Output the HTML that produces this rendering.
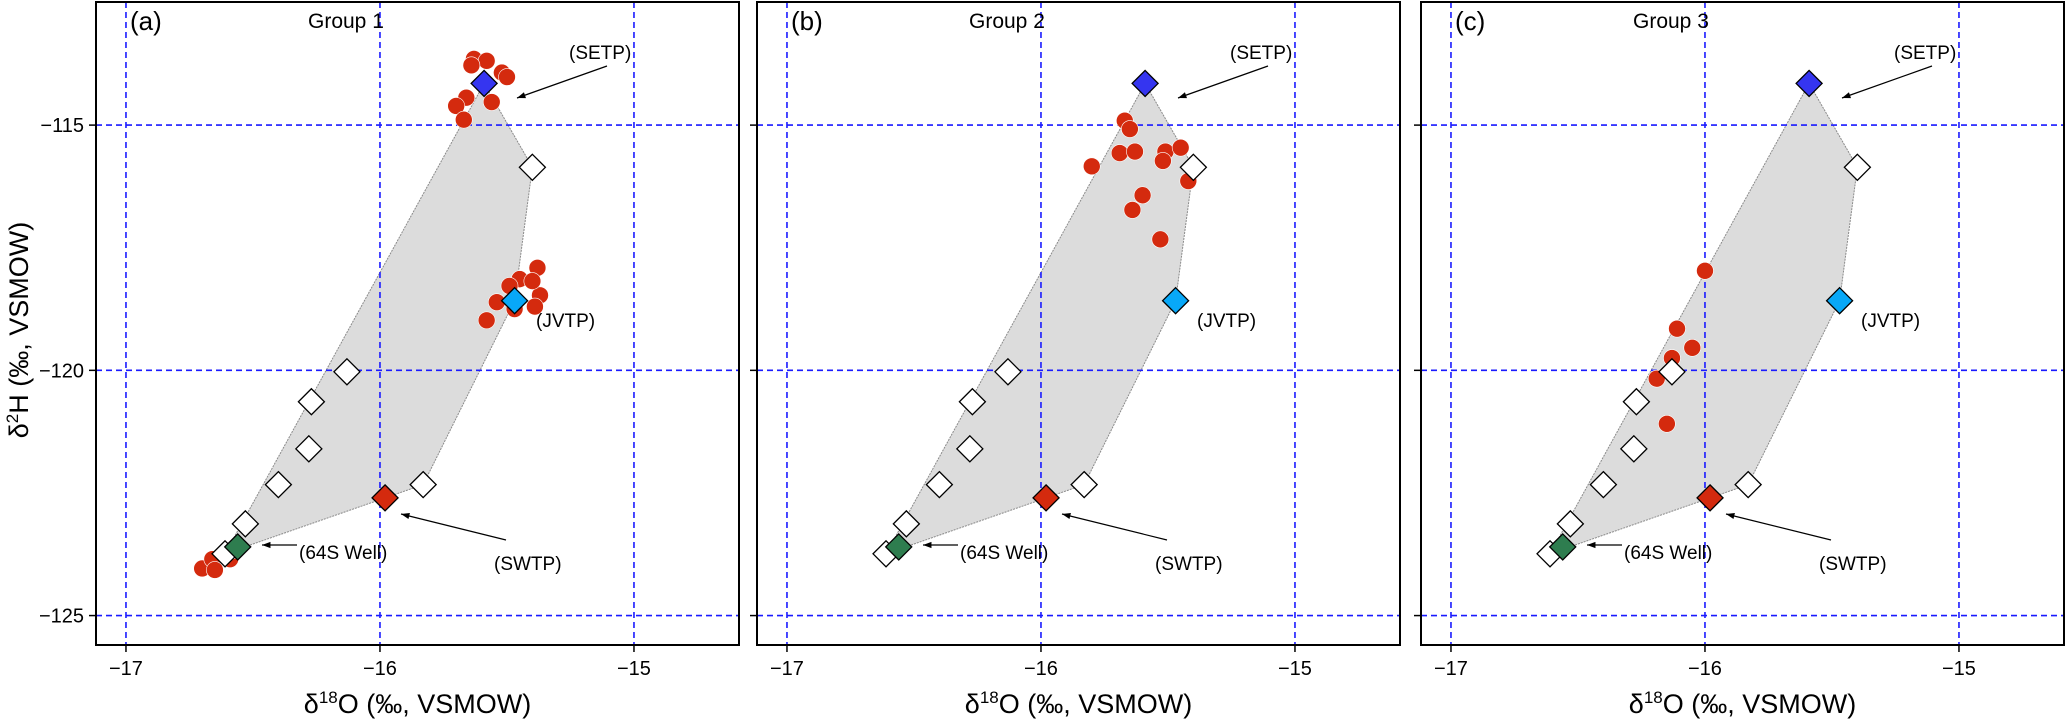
<!DOCTYPE html>
<html><head><meta charset="utf-8">
<style>
html,body{margin:0;padding:0;background:#fff;}
svg{display:block;font-family:"Liberation Sans",sans-serif;}
</style></head>
<body>
<svg id="chart" width="2067" height="721" viewBox="0 0 2067 721" xmlns="http://www.w3.org/2000/svg"></svg>
<script>
// ---- data ----
const xTicks = [-17, -16, -15];
const yTicks = [-115, -120, -125];
const panelLetters = ["(a)", "(b)", "(c)"];
const panelGroups = ["Group 1", "Group 2", "Group 3"];
const sourceNames = ["SETP", "JVTP", "SWTP", "64S Well"];
const sourceX = [-15.59, -15.47, -15.98, -16.56];
const sourceY = [-114.15, -118.58, -122.6, -123.6];
const sourceColors = ["#3535f0", "#08a8f8", "#d42a0e", "#2e7d4f"];
const otherX = [-15.40, -16.13, -16.27, -16.28, -16.40, -15.83, -16.53, -16.61];
const otherY = [-115.86, -120.03, -120.64, -121.6, -122.33, -122.33, -123.13, -123.74];
const group1X = [-15.63,-15.58,-15.64,-15.52,-15.50,-15.66,-15.70,-15.56,-15.67,
  -15.38,-15.45,-15.49,-15.37,-15.39,-15.54,-15.58,-15.47,-15.40,
  -16.70,-16.66,-16.65,-16.59,-16.58];
const group1Y = [-113.65,-113.69,-113.78,-113.93,-114.02,-114.44,-114.61,-114.53,-114.89,
  -117.91,-118.14,-118.28,-118.47,-118.70,-118.61,-118.98,-118.75,-118.18,
  -124.04,-123.85,-124.07,-123.85,-123.67];
const group2X = [-15.67,-15.65,-15.69,-15.63,-15.51,-15.45,-15.52,-15.80,-15.42,-15.60,-15.64,-15.53];
const group2Y = [-114.91,-115.08,-115.57,-115.54,-115.54,-115.46,-115.73,-115.84,-116.14,-116.43,-116.73,-117.33];
const group3X = [-16.00,-16.11,-16.05,-16.13,-16.19,-16.15];
const group3Y = [-117.97,-119.15,-119.54,-119.75,-120.17,-121.09];

const groupsX = [group1X, group2X, group3X];
const groupsY = [group1Y, group2Y, group3Y];

// ---- layout ----
const panelLeft = [96, 757, 1421];
const plotW = 643, plotTop = 2, plotBottom = 645;
const xMin = -17.118, xMax = xMin + 643/254;
const yMax = -112.49, yMin = -125.6;
function sx(p, v){ return panelLeft[p] + (v - xMin) / (xMax - xMin) * plotW; }
function sy(v){ return plotTop + (yMax - v) / (yMax - yMin) * (plotBottom - plotTop); }

const NS = "http://www.w3.org/2000/svg";
const svg = document.getElementById("chart");
function mk(tag, attrs, parent){
  const e = document.createElementNS(NS, tag);
  for (const k in attrs) e.setAttribute(k, attrs[k]);
  (parent || svg).appendChild(e);
  return e;
}

// convex hull of diamonds
function hull(pts){
  pts = pts.slice().sort((a,b)=>a[0]-b[0]||a[1]-b[1]);
  const cr=(o,a,b)=>(a[0]-o[0])*(b[1]-o[1])-(a[1]-o[1])*(b[0]-o[0]);
  const lo=[],up=[];
  for(const p of pts){while(lo.length>=2&&cr(lo[lo.length-2],lo[lo.length-1],p)<=0)lo.pop();lo.push(p);}
  for(let i=pts.length-1;i>=0;i--){const p=pts[i];while(up.length>=2&&cr(up[up.length-2],up[up.length-1],p)<=0)up.pop();up.push(p);}
  up.pop();lo.pop();return lo.concat(up);
}

function diamond(cx, cy, fill, g){
  const r = 13;
  return mk("polygon", {points:`${cx},${cy-r} ${cx+r},${cy} ${cx},${cy+r} ${cx-r},${cy}`, fill:fill, stroke:"#000", "stroke-width":1.3}, g);
}

for (let p = 0; p < 3; p++){
  const g = mk("g", {});
  
  
  const L = panelLeft[p];

  // hull
  const allX = sourceX.concat(otherX), allY = sourceY.concat(otherY);
  const h = hull(allX.map((v,i)=>[sx(p,v), sy(allY[i])]));
  const hp = mk("polygon", {points:h.map(q=>q.join(",")).join(" "), fill:"#dcdcdc", stroke:"#8a8a8a", "stroke-width":1, "stroke-dasharray":"2,1"}, g);
  
  

  // grid
  xTicks.forEach(t=>{
    const l = mk("line", {x1:sx(p,t), x2:sx(p,t), y1:plotTop, y2:plotBottom, stroke:"#1a1aff", "stroke-width":1.6, "stroke-dasharray":"6,4"}, g);
    
    
    const tk = mk("line", {x1:sx(p,t), x2:sx(p,t), y1:plotBottom, y2:plotBottom+7, stroke:"#000", "stroke-width":1.5}, g);
    
    
    const tl = mk("text", {x:sx(p,t), y:675, "text-anchor":"middle", "font-size":20, fill:"#000"}, g);
    tl.textContent = "\u2212" + Math.abs(t);
    
    
  });
  yTicks.forEach(t=>{
    const l = mk("line", {x1:L, x2:L+plotW, y1:sy(t), y2:sy(t), stroke:"#1a1aff", "stroke-width":1.6, "stroke-dasharray":"6,4"}, g);
    
    
    const tk = mk("line", {x1:L-7, x2:L, y1:sy(t), y2:sy(t), stroke:"#000", "stroke-width":1.5}, g);
    
    
    if (p === 0){
      const tl = mk("text", {x:L-12, y:sy(t)+7, "text-anchor":"end", "font-size":20, fill:"#000"}, g);
      tl.textContent = "\u2212" + Math.abs(t);
      
      
    }
  });

  // red samples
  const gx = groupsX[p], gy = groupsY[p];
  gx.forEach((v,i)=>{
    const c = mk("circle", {cx:sx(p,v), cy:sy(gy[i]), r:8.5, fill:"#d42a0e", stroke:"#fff", "stroke-width":0.6}, g);
    
    
  });

  // diamonds
  otherX.forEach((v,i)=>{
    const d = diamond(sx(p,v), sy(otherY[i]), "#fff", g);
    
    
  });
  sourceX.forEach((v,i)=>{
    const d = diamond(sx(p,v), sy(sourceY[i]), sourceColors[i], g);
    
    
  });

  // annotations
  const ann = [
    {t:"(SETP)", x:L+473, y:59, a:[L+511,66,L+421,98]},
    {t:"(JVTP)", x:L+440, y:327, a:null},
    {t:"(64S Well)", x:L+203, y:559, a:[L+201,545,L+166,545]},
    {t:"(SWTP)", x:L+398, y:570, a:[L+410,540,L+305,514]}
  ];
  ann.forEach(o=>{
    const tx = mk("text", {x:o.x, y:o.y, "font-size":19, fill:"#000"}, g);
    tx.textContent = o.t;
    
    
    if (o.a){
      const [x1,y1,x2,y2] = o.a;
      const ln = mk("line", {x1:x1,y1:y1,x2:x2,y2:y2,stroke:"#000","stroke-width":1.2}, g);
      
      
      const ang = Math.atan2(y2-y1, x2-x1), s=9;
      const ah = mk("polygon", {points:`${x2},${y2} ${x2-s*Math.cos(ang-0.35)},${y2-s*Math.sin(ang-0.35)} ${x2-s*Math.cos(ang+0.35)},${y2-s*Math.sin(ang+0.35)}`, fill:"#000"}, g);
      
      
    }
  });

  // frame
  const fr = mk("rect", {x:L, y:plotTop, width:plotW, height:plotBottom-plotTop, fill:"none", stroke:"#000", "stroke-width":2}, g);
  
  

  const lt = mk("text", {x:L+34, y:30, "font-size":26, fill:"#000"}, g);
  lt.textContent = panelLetters[p];
  
  
  const gt = mk("text", {x:L+212, y:28, "font-size":21, fill:"#000"}, g);
  gt.textContent = panelGroups[p];
  
  

  const xt = mk("text", {x:L+plotW/2, y:713, "text-anchor":"middle", "font-size":27, fill:"#000"}, g);
  xt.innerHTML = 'δ<tspan font-size="17" dy="-10">18</tspan><tspan dy="10">O (‰, VSMOW)</tspan>';
  
  
}

const yt = mk("text", {x:0, y:0, "text-anchor":"middle", "font-size":27, fill:"#000", transform:"translate(28,330) rotate(-90)"});
yt.innerHTML = 'δ<tspan font-size="17" dy="-10">2</tspan><tspan dy="10">H (‰, VSMOW)</tspan>';


</script>
</body></html>
